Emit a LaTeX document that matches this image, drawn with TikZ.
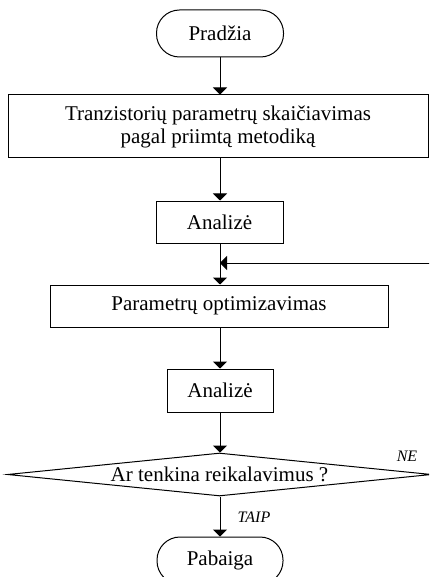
\documentclass[tikz,border=0pt]{standalone}
\usepackage{fontspec}
\setmainfont{Liberation Serif}
\usetikzlibrary{arrows.meta,shapes.geometric}
\begin{document}
\begin{tikzpicture}[x=1pt,y=-1pt,
  every node/.style={font=\fontsize{21}{23}\selectfont, inner sep=0pt, line width=1pt},
  box/.style={draw, rectangle, align=center},
  term/.style={draw, rectangle, rounded corners=23pt},
  dec/.style={draw, diamond, aspect=9.8},
  lbl/.style={font=\fontsize{16}{18}\selectfont\itshape},
  arr/.style={line width=1pt, -{Triangle[length=7pt,width=14pt]}}]
\useasboundingbox (0,0) rectangle (429,577);
\clip (0,0) rectangle (429,577);
\node[term, minimum width=127pt, minimum height=47pt] (start) at (220,33.5) {Pradžia};
\node[box, minimum width=420pt, minimum height=63pt] (calc) at (218,126.5) {Tranzistorių parametrų skaičiavimas\\pagal priimtą metodiką};
\node[box, minimum width=127pt, minimum height=42pt] (an1) at (219.5,222) {Analizė};
\node[box, minimum width=338pt, minimum height=42pt] (opt) at (219,306) {Parametrų optimizavimas};
\node[box, minimum width=106pt, minimum height=43pt] (an2) at (220,390.5) {Analizė};
\node[dec, minimum width=424pt, minimum height=43pt] (chk) at (219.5,474.5) {Ar tenkina reikalavimus ?};
\node[term, minimum width=126pt, minimum height=47pt] (end) at (220,560.5) {Pabaiga};
\coordinate (join) at (220,263);
\node[lbl] (ne) at (407,456) {NE};
\node[lbl] (taip) at (254,517) {TAIP};
\draw[arr] (start.south -| 220,0) -- (calc.north -| 220,0);
\draw[arr] (calc.south -| 220,0) -- (an1.north -| 220,0);
\draw[arr] (an1.south -| 220,0) -- (opt.north -| 220,0);
\draw[arr] (opt.south -| 220,0) -- (an2.north -| 220,0);
\draw[arr] (an2.south -| 220,0) -- (chk.north -| 220,0);
\draw[arr] (chk.south -| 220,0) -- (end.north -| 220,0);
\draw[arr] (chk.east) |- (join);
\end{tikzpicture}
\end{document}
